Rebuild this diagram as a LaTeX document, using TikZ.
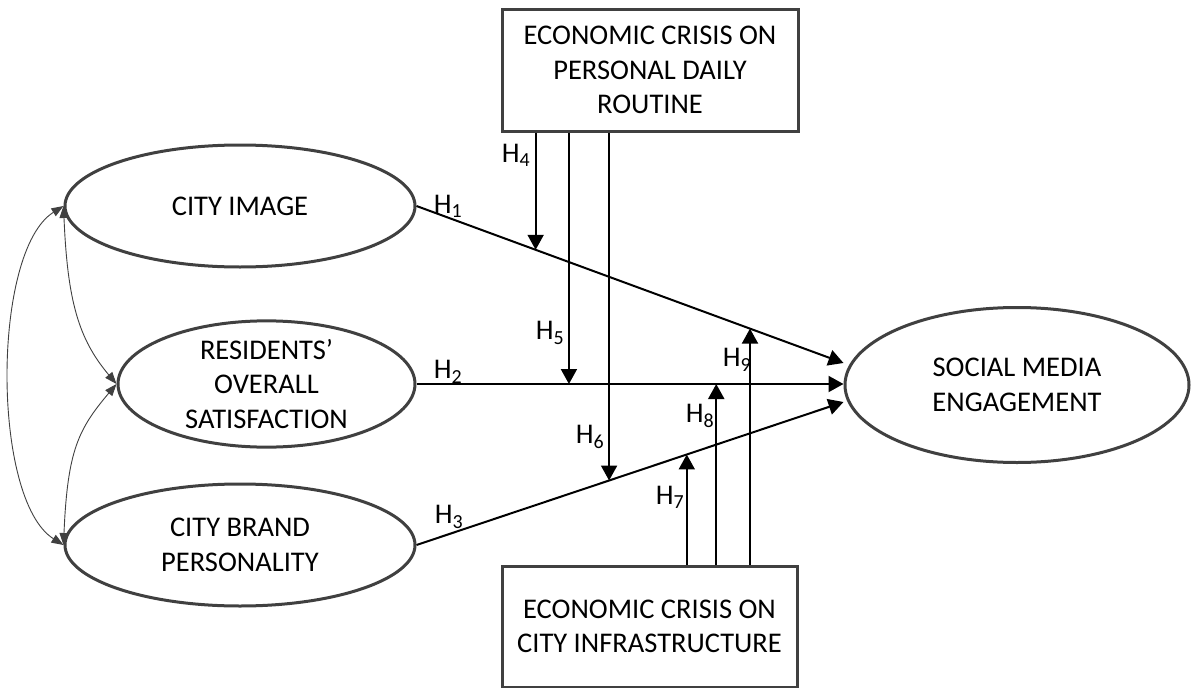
\documentclass[tikz,border=0pt]{standalone}
\usepackage{fontspec}
\setmainfont{Carlito}
\usetikzlibrary{arrows.meta,shapes.geometric,calc}
\definecolor{edgegray}{HTML}{404040}
\newcommand{\hyp}[1]{H\textsubscript{#1}}
\begin{document}
\begin{tikzpicture}[x=1pt,y=-1pt,
  every node/.style={font=\fontsize{28.5}{34.5}\selectfont},
  latent/.style={ellipse,draw=edgegray,line width=3pt,inner sep=0pt,align=center},
  crisis/.style={rectangle,draw=edgegray,line width=3pt,inner sep=0pt,align=center},
  hpath/.style={line width=2pt,-{Triangle[length=15pt,width=16pt]}},
  cov/.style={draw=edgegray,line width=0.9pt,{Triangle[length=12pt,width=9pt]}-{Triangle[length=12pt,width=9pt]}},
  hlab/.style={inner sep=0pt}]
\useasboundingbox (0,0) rectangle (1192,688);

% latent constructs
\node[latent,minimum width=350pt,minimum height=122pt] (ci)  at (240,206) {CITY IMAGE};
\node[latent,minimum width=297pt,minimum height=122pt] (res) at (266.5,384) {RESIDENTS’\\OVERALL\\SATISFACTION};
\node[latent,minimum width=350pt,minimum height=122pt] (cbp) at (240,545) {CITY BRAND\\PERSONALITY};
\node[latent,minimum width=344pt,minimum height=155pt] (sm)  at (1017,385) {SOCIAL MEDIA\\ENGAGEMENT};

% moderators
\node[crisis,minimum width=296pt,minimum height=122pt] (top) at (650,70) {ECONOMIC CRISIS ON\\PERSONAL DAILY\\ROUTINE};
\node[crisis,minimum width=295pt,minimum height=121pt] (bot) at (649.5,626.5) {ECONOMIC CRISIS ON\\CITY INFRASTRUCTURE};

% direct paths
\draw[hpath] (ci.east) -- coordinate[pos=0.279] (m4) coordinate[pos=0.781] (m9) ([yshift=22pt]sm.west);
\draw[hpath] (res.east) -- coordinate[pos=0.357] (m5) coordinate[pos=0.702] (m8) (res.east -| sm.west);
\draw[hpath] (cbp.east) -- coordinate[pos=0.451] (m6) coordinate[pos=0.633] (m7) ([yshift=-17pt]sm.west);

% moderating paths
\draw[hpath] (m4 |- top.south) -- (m4);
\draw[hpath] (m5 |- top.south) -- (m5);
\draw[hpath] (m6 |- top.south) -- (m6);
\draw[hpath] (m7 |- bot.north) -- (m7);
\draw[hpath] (m8 |- bot.north) -- (m8);
\draw[hpath] (m9 |- bot.north) -- (m9);

% correlations
\draw[cov] (ci.west) .. controls +(-72,45) and +(-72,-45) .. (cbp.west);
\draw[cov] (ci.west) .. controls +(4,95) and +(-38,-45) .. (res.west);
\draw[cov] (res.west) .. controls +(-38,45) and +(4,-95) .. (cbp.west);

% hypothesis labels
\node[hlab] (l1) at (448,206) {\hyp{1}};
\node[hlab] (l2) at (448,372) {\hyp{2}};
\node[hlab] (l3) at (449,517) {\hyp{3}};
\node[hlab] (l4) at (516,155) {\hyp{4}};
\node[hlab] (l5) at (550,333) {\hyp{5}};
\node[hlab] (l6) at (590,437) {\hyp{6}};
\node[hlab] (l7) at (670,497) {\hyp{7}};
\node[hlab] (l8) at (700,416) {\hyp{8}};
\node[hlab] (l9) at (737,360) {\hyp{9}};
\end{tikzpicture}
\end{document}
